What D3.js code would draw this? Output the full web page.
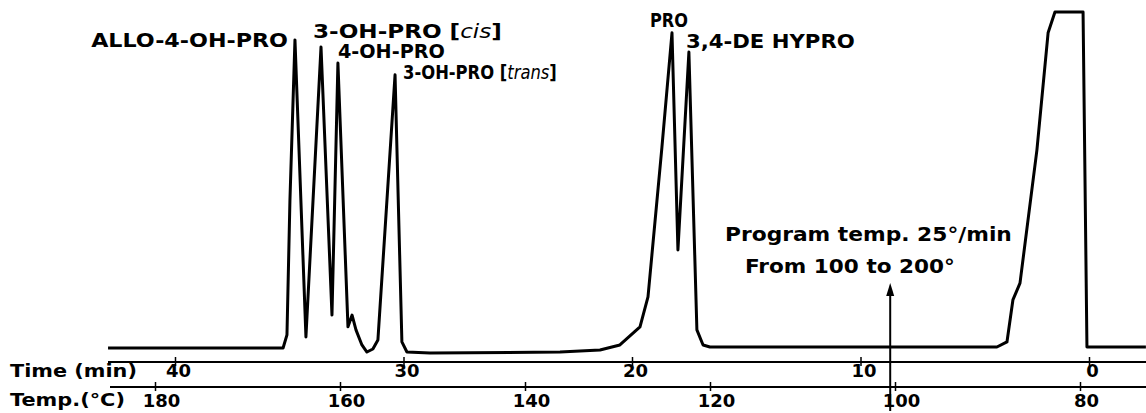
<!DOCTYPE html>
<html>
<head>
<meta charset="utf-8">
<script src="https://cdn.jsdelivr.net/npm/d3@7"></script>
<style>
body { margin: 0; background: #fff; }
text { font-family: "DejaVu Sans", sans-serif; font-weight: bold; fill: #000; }
</style>
</head>
<body>
<div id="chart"></div>
<script>
// trace: time (min) and pen signal (% of full scale)
var chromTime = [42.93, 35.27, 35.10, 34.97, 34.75, 34.27, 33.61, 33.13, 32.87,
  32.43, 32.25, 32.08, 31.82, 31.60, 31.34, 31.12, 30.37, 30.07, 29.85, 28.84, 23.15, 21.40, 20.53,
  19.65, 19.30, 18.69, 18.25, 17.99, 17.51, 17.16, 16.89, 16.59, 4.03, 3.59, 3.33, 3.02, 2.28, 1.79, 1.49, 0.26, 0.09, -2.49];
var chromSignal = [0, 0, 3.9, 44.0, 91.7, 3.3, 89.6, 9.8, 84.8,
  6.3, 9.8, 5.4, 0.9, -1.2, -0.3, 2.4, 81.3, 1.8, -1.2, -1.5, -1.2, -0.6, 0.9,
  6.3, 15.2, 59.8, 93.8, 29.2, 88.1, 5.4, 0.9, 0.3, 0.3, 1.8, 14.3, 19.3, 58.9, 93.8, 100, 100, 0.3, 0.3];

var peakNames = ["ALLO-4-OH-PRO", "3-OH-PRO [|cis|]", "4-OH-PRO", "3-OH-PRO [|trans|]", "PRO", "3,4-DE HYPRO"];
var peakTimes = [34.75, 33.61, 32.87, 30.37, 18.25, 17.51];
var peakHeights = [91.7, 89.6, 84.8, 81.3, 93.8, 88.1];

var timeTicks = [40, 30, 20, 10, 0];
var tempTicks = [180, 160, 140, 120, 100, 80];

var programStart = 8.7;
var programText = ["Program temp. 25°/min", "From 100 to 200°"];

var width = 1146, height = 413;

var x = d3.scaleLinear().domain([0, 40]).range([1089, 175]);
var xTemp = d3.scaleLinear().domain([80, 180]).range([1080, 155]);
var y = d3.scaleLinear().domain([0, 100]).range([348, 12]);

var svg = d3.select("#chart").append("svg")
  .attr("width", width)
  .attr("height", height);

var data = chromTime.map(function (t, i) { return { t: t, s: chromSignal[i] }; });

var line = d3.line()
  .x(function (d) { return x(d.t); })
  .y(function (d) { return y(d.s); });

svg.append("path")
  .datum(data)
  .attr("d", line)
  .attr("fill", "none")
  .attr("stroke", "#000")
  .attr("stroke-width", 3)
  .attr("stroke-linejoin", "round");

// stretch a text sideways so it covers the same width as the lettering on the chart
function addText(px, py, str, size, w, anchor) {
  var g = svg.append("g");
  var txt = g.append("text")
    .attr("font-size", size)
    .attr("text-anchor", anchor || "start");
  str.split("|").forEach(function (part, j) {
    txt.append("tspan")
      .style("font-style", j % 2 ? "italic" : "normal")
      .style("font-weight", j % 2 ? "normal" : "bold")
      .text(part);
  });
  var k = w / txt.node().getComputedTextLength();
  g.attr("transform", "translate(" + px + "," + py + ") scale(" + k + ",1)");
  return txt;
}

// label placement next to each apex
var labelLayout = [
  { dx: -7, dy: 7, anchor: "end", len: 197 },
  { dx: -8, dy: -9, anchor: "start", len: 189 },
  { dx: 0, dy: -5, anchor: "start", len: 107 },
  { dx: 8, dy: 4, anchor: "start", len: 154 },
  { dx: -22, dy: -6, anchor: "start", len: 38 },
  { dx: -3, dy: -4, anchor: "start", len: 169 }
];

peakNames.forEach(function (name, i) {
  var lay = labelLayout[i];
  addText(x(peakTimes[i]) + lay.dx, y(peakHeights[i]) + lay.dy, name, 19, lay.len, lay.anchor);
});

// time axis
var timeAxis = svg.append("g")
  .attr("transform", "translate(0,362)")
  .call(d3.axisBottom(x).tickValues(timeTicks).tickSizeInner(4).tickSizeOuter(0));
timeAxis.select(".domain").remove();
timeAxis.selectAll(".tick line").attr("y1", -5).attr("y2", 4).attr("stroke-width", 1.5);
timeAxis.selectAll(".tick text")
  .attr("y", 15).attr("dy", 0).attr("dx", 3)
  .attr("font-size", 18).attr("font-family", "DejaVu Sans").attr("font-weight", "bold");
timeAxis.append("line")
  .attr("x1", 108).attr("x2", width)
  .attr("stroke", "#000").attr("stroke-width", 2);

// temperature axis
var tempAxis = svg.append("g")
  .attr("transform", "translate(0,387)")
  .call(d3.axisBottom(xTemp).tickValues(tempTicks).tickSizeInner(4).tickSizeOuter(0));
tempAxis.select(".domain").remove();
tempAxis.selectAll(".tick line").attr("y1", -5).attr("y2", 4).attr("stroke-width", 1.5);
tempAxis.selectAll(".tick text")
  .attr("y", 20).attr("dy", 0).attr("dx", 6)
  .attr("font-size", 18).attr("font-family", "DejaVu Sans").attr("font-weight", "bold");
tempAxis.append("line")
  .attr("x1", 110).attr("x2", width)
  .attr("stroke", "#000").attr("stroke-width", 2);

addText(10, 377, "Time (min)", 18, 127);
addText(10, 406, "Temp.(°C)", 18, 115);

// program start arrow
var ax = x(programStart);
svg.append("line")
  .attr("x1", ax).attr("x2", ax)
  .attr("y1", 411).attr("y2", 292)
  .attr("stroke", "#000").attr("stroke-width", 2);
svg.append("path")
  .attr("d", "M" + (ax - 4) + ",296L" + ax + ",283L" + (ax + 4) + ",296Z")
  .attr("fill", "#000");

addText(725, 241, programText[0], 19, 287);
addText(745, 273, programText[1], 19, 210);
</script>
</body>
</html>
